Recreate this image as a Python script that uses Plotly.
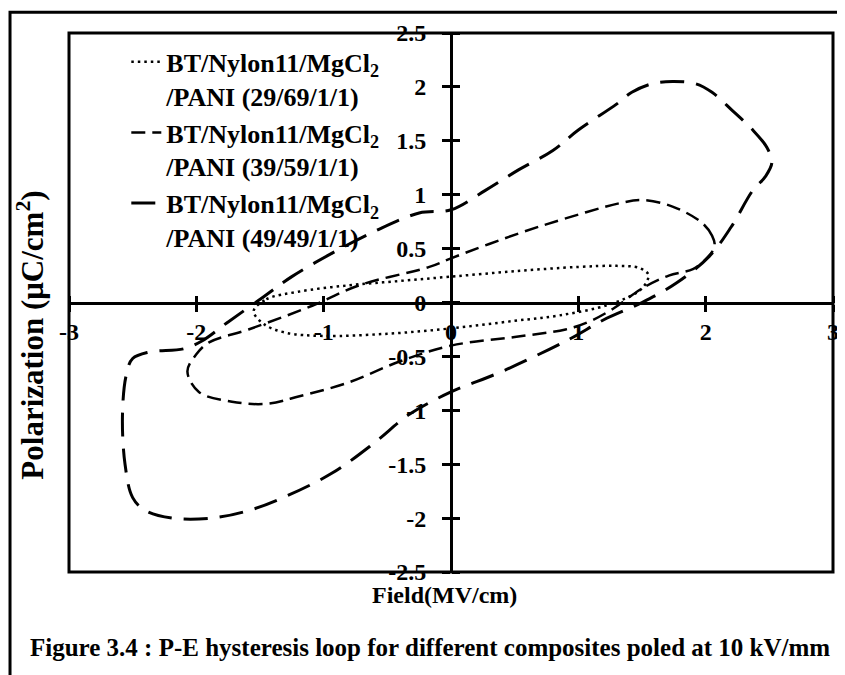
import plotly.graph_objects as go

# ---------------- data ----------------
series_names = [
    "BT/Nylon11/MgCl<sub>2</sub><br>/PANI (29/69/1/1)",
    "BT/Nylon11/MgCl<sub>2</sub><br>/PANI (39/59/1/1)",
    "BT/Nylon11/MgCl<sub>2</sub><br>/PANI (49/49/1/1)",
]

e_29 = [-1.55, -1.45, -1.2, -0.8, -0.4, 0.0, 0.5, 1.0, 1.3, 1.48, 1.55, 1.54, 1.48, 1.24, 0.85, 0.5, 0.0, -0.5, -1.0, -1.3, -1.47, -1.55]
p_29 = [-0.08, 0.03, 0.1, 0.16, 0.2, 0.24, 0.29, 0.33, 0.34, 0.32, 0.26, 0.2, 0.11, -0.02, -0.12, -0.17, -0.24, -0.29, -0.31, -0.28, -0.2, -0.08]

e_39 = [2.07, 2.05, 1.97, 1.74, 1.5, 1.32, 0.9, 0.53, 0.0, -0.17, -0.72, -1.09, -1.59, -1.9, -2.0, -2.07, -1.98, -1.72, -1.45, -1.19, -0.8, -0.41, 0.0, 0.5, 0.9, 1.08, 1.27, 1.5, 1.71, 1.9, 2.0, 2.07]
p_39 = [0.52, 0.62, 0.74, 0.89, 0.95, 0.92, 0.78, 0.64, 0.41, 0.33, 0.16, -0.03, -0.25, -0.37, -0.48, -0.64, -0.83, -0.92, -0.94, -0.87, -0.74, -0.55, -0.40, -0.32, -0.25, -0.18, -0.06, 0.13, 0.25, 0.31, 0.4, 0.52]

e_49 = [2.52, 2.48, 2.37, 2.21, 2.05, 1.92, 1.74, 1.58, 1.42, 1.30, 1.0, 0.8, 0.53, 0.27, 0.0, -0.25, -0.6, -0.93, -1.25, -1.51, -1.75, -1.96, -2.1, -2.37, -2.5, -2.55, -2.58, -2.56, -2.5, -2.4, -2.19, -1.88, -1.59, -1.3, -0.93, -0.6, -0.33, 0.0, 0.4, 0.93, 1.2, 1.5, 1.77, 2.03, 2.2, 2.37, 2.47, 2.52]
p_49 = [1.3, 1.44, 1.6, 1.78, 1.95, 2.03, 2.05, 2.03, 1.95, 1.84, 1.6, 1.41, 1.23, 1.04, 0.86, 0.83, 0.66, 0.46, 0.24, 0.02, -0.18, -0.36, -0.43, -0.46, -0.52, -0.67, -1.04, -1.5, -1.81, -1.93, -2.0, -2.0, -1.93, -1.8, -1.58, -1.3, -1.04, -0.83, -0.64, -0.34, -0.16, 0.0, 0.18, 0.43, 0.7, 1.04, 1.17, 1.3]

x_tickvals = [-3, -2, -1, 0, 1, 2, 3]
x_ticktext = ["-3", "-2", "-1", "0", "1", "2", "3"]
y_tickvals = [-2.5, -2, -1.5, -1, -0.5, 0, 0.5, 1, 1.5, 2, 2.5]
y_ticktext = ["-2.5", "-2", "-1.5", "-1", "-0.5", "0", "0.5", "1", "1.5", "2", "2.5"]

x_title = "Field(MV/cm)"
y_title = "Polarization (μC/cm<sup>2</sup>)"
caption = "Figure 3.4 : P-E hysteresis loop for different composites poled at 10 kV/mm"

# ---------------- figure ----------------
FONT = "Liberation Serif"
fig = go.Figure()

styles = [
    dict(dash="2.5px,4px", width=2.5),
    dict(dash="14px,7px", width=2.5),
    dict(dash="24px,12px", width=3),
]
for name, xs, ys, st in zip(series_names, [e_29, e_39, e_49], [p_29, p_39, p_49], styles):
    fig.add_trace(go.Scatter(
        x=xs, y=ys, mode="lines", name=name,
        line=dict(color="black", width=st["width"], dash=st["dash"], shape="spline", smoothing=1.0),
        legendgroup=name,
    ))

# helper trace for the mirrored tick axes
fig.add_trace(go.Scatter(x=[None], y=[None], xaxis="x2", yaxis="y2", showlegend=False, hoverinfo="skip"))

tickfont = dict(family=FONT, size=24, color="black", weight="bold")

fig.update_layout(
    width=845, height=675,
    margin=dict(l=61, r=20, t=21, b=111),
    paper_bgcolor="white", plot_bgcolor="white",
    showlegend=True,
    legend=dict(
        x=0.075, y=0.99, xanchor="left", yanchor="top",
        bgcolor="rgba(0,0,0,0)",
        font=dict(family=FONT, size=26, color="black", weight="bold"),
        valign="top", tracegroupgap=0,
    ),
    xaxis=dict(
        range=[-3, 3], anchor="free", position=0.5, side="bottom",
        showline=True, linewidth=3, linecolor="black",
        ticks="outside", ticklen=7, tickwidth=3, tickcolor="black",
        tickvals=x_tickvals, ticktext=x_ticktext, tickfont=tickfont,
        showgrid=False, zeroline=False, ticklabelstandoff=0,
    ),
    yaxis=dict(
        range=[-2.5, 2.5], anchor="free", position=0.5, side="left",
        showline=True, linewidth=3, linecolor="black",
        ticks="outside", ticklen=8, tickwidth=3, tickcolor="black",
        tickvals=y_tickvals, ticktext=y_ticktext, tickfont=tickfont,
        showgrid=False, zeroline=False, ticklabelstandoff=11,
    ),
    xaxis2=dict(
        range=[-3, 3], overlaying="x", anchor="free", position=0.5, side="top",
        showline=False, ticks="outside", ticklen=7, tickwidth=3, tickcolor="black",
        tickvals=x_tickvals, showticklabels=False, showgrid=False, zeroline=False,
    ),
    yaxis2=dict(
        range=[-2.5, 2.5], overlaying="y", anchor="free", position=0.5, side="right",
        showline=False, ticks="outside", ticklen=8, tickwidth=3, tickcolor="black",
        tickvals=y_tickvals, showticklabels=False, showgrid=False, zeroline=False,
    ),
    shapes=[
        dict(type="rect", xref="paper", yref="paper", x0=0, y0=0, x1=1, y1=1,
             line=dict(color="black", width=3), layer="above"),
        dict(type="rect", xref="paper", yref="paper", x0=-0.0772, y0=-0.5, x1=1.1, y1=1.0387,
             line=dict(color="black", width=3), layer="above"),
    ],
    annotations=[
        dict(text=x_title, xref="paper", yref="paper", x=0.491, y=-0.042,
             xanchor="center", yanchor="middle", showarrow=False,
             font=dict(family=FONT, size=24, color="black", weight="bold")),
        dict(text=y_title, xref="paper", yref="paper", x=-0.05, y=0.44,
             xanchor="center", yanchor="middle", showarrow=False, textangle=-90,
             font=dict(family=FONT, size=31, color="black", weight="bold")),
        dict(text=caption, xref="paper", yref="paper", x=0.4725, y=-0.14,
             xanchor="center", yanchor="middle", showarrow=False,
             font=dict(family=FONT, size=25, color="black", weight="bold")),
    ],
)

fig.write_html("out.html")
